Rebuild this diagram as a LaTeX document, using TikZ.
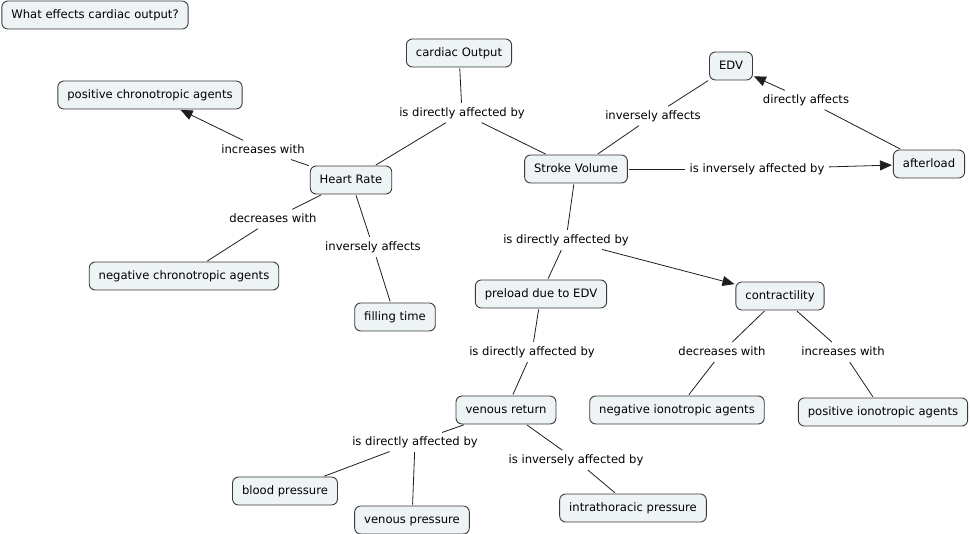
\documentclass[tikz,border=0pt]{standalone}
\usepackage{fontspec}
\setmainfont{DejaVu Sans}
\usepackage{xcolor}
\usetikzlibrary{arrows.meta}
\definecolor{boxfill}{HTML}{EEF3F5}
\definecolor{boxline}{HTML}{3A3A3A}
\definecolor{linkline}{HTML}{1E1E1E}

\begin{document}
\begin{tikzpicture}[x=1pt, y=-1pt, font=\fontsize{11.6}{13}\selectfont,
    concept/.style={draw=boxline, fill=boxfill, line width=0.9pt, rounded corners=6pt,
        inner xsep=9.5pt, minimum height=28pt, text height=8.6pt, text depth=2.4pt},
    link/.style={fill=white, inner sep=3.5pt, text height=8.6pt, text depth=2.4pt},
    conn/.style={draw=linkline, line width=0.8pt, shorten <=1pt, shorten >=1pt},
    tip/.style={-{Triangle[length=12pt, width=10pt]}}]
    \useasboundingbox (0,0) rectangle (970,534);

    \node[concept] (question) at (95,15) {What effects cardiac output?};
    \node[concept] (output) at (459,53) {cardiac Output};
    \node[concept] (poschrono) at (150,95) {positive chronotropic agents};
    \node[concept] (edv) at (731,66) {EDV};
    \node[concept] (heartrate) at (351,180) {Heart Rate};
    \node[concept] (stroke) at (576,169) {Stroke Volume};
    \node[concept] (afterload) at (929,164) {afterload};
    \node[concept] (negchrono) at (184,276) {negative chronotropic agents};
    \node[concept] (filling) at (395,317) {filling time};
    \node[concept] (preload) at (541,294) {preload due to EDV};
    \node[concept] (contract) at (780,296) {contractility};
    \node[concept] (venous) at (506,410) {venous return};
    \node[concept] (negiono) at (677,410) {negative ionotropic agents};
    \node[concept] (posiono) at (883,412) {positive ionotropic agents};
    \node[concept] (blood) at (285,491) {blood pressure};
    \node[concept] (venpress) at (412,520) {venous pressure};
    \node[concept] (intra) at (633,508) {intrathoracic pressure};

    \node[link] (outlink) at (462,113) {is directly affected by};
    \node[link] (hrup) at (263,150) {increases with};
    \node[link] (svedv) at (653,116) {inversely affects};
    \node[link] (afteredv) at (806,100) {directly affects};
    \node[link] (svafter) at (757,169) {is inversely affected by};
    \node[link] (hrdown) at (273,219) {decreases with};
    \node[link] (hrfill) at (373,247) {inversely affects};
    \node[link] (svlink) at (566,240) {is directly affected by};
    \node[link] (prelink) at (532,352) {is directly affected by};
    \node[link] (condown) at (722,352) {decreases with};
    \node[link] (conup) at (843,352) {increases with};
    \node[link] (venlink) at (415,442) {is directly affected by};
    \node[link] (venintra) at (576,460) {is inversely affected by};

    \draw[conn] (output) -- (outlink);
    \draw[conn] (outlink) -- (heartrate);
    \draw[conn] (outlink) -- (stroke);
    \draw[conn] (heartrate) -- (hrup);
    \draw[conn, tip] (hrup) -- (poschrono);
    \draw[conn] (heartrate) -- (hrdown);
    \draw[conn] (hrdown) -- (negchrono);
    \draw[conn] (heartrate) -- (hrfill);
    \draw[conn] (hrfill) -- (filling);
    \draw[conn] (stroke) -- (svedv);
    \draw[conn] (svedv) -- (edv);
    \draw[conn] (afterload) -- (afteredv);
    \draw[conn, tip] (afteredv) -- (edv);
    \draw[conn] (stroke) -- (svafter);
    \draw[conn, tip] (svafter) -- (afterload);
    \draw[conn] (stroke) -- (svlink);
    \draw[conn] (svlink) -- (preload);
    \draw[conn, tip] (svlink) -- (contract);
    \draw[conn] (preload) -- (prelink);
    \draw[conn] (prelink) -- (venous);
    \draw[conn] (contract) -- (condown);
    \draw[conn] (condown) -- (negiono);
    \draw[conn] (contract) -- (conup);
    \draw[conn] (conup) -- (posiono);
    \draw[conn] (venous) -- (venlink);
    \draw[conn] (venlink) -- (blood);
    \draw[conn] (venlink) -- (venpress);
    \draw[conn] (venous) -- (venintra);
    \draw[conn] (venintra) -- (intra);
\end{tikzpicture}
\end{document}
